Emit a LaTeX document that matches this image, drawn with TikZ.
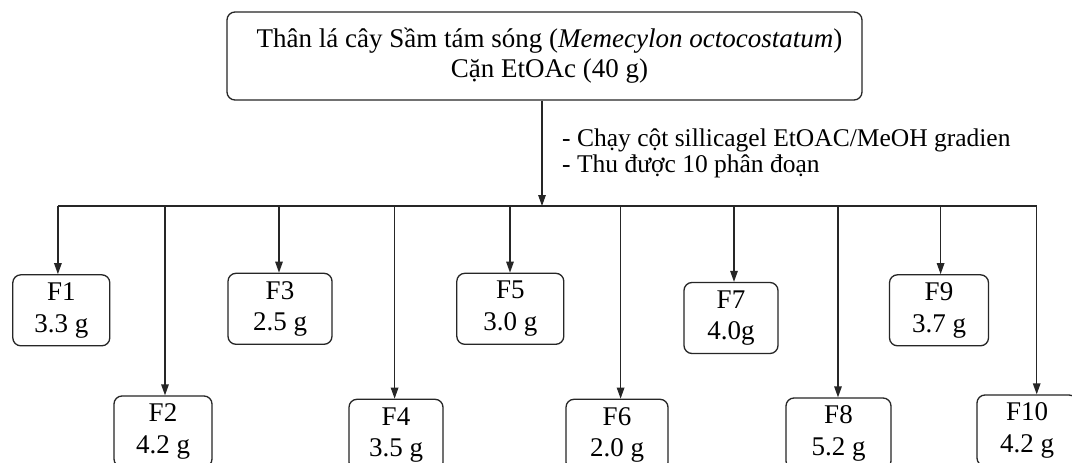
\documentclass[tikz,border=0pt]{standalone}
\usepackage{fontspec}
\setmainfont{Liberation Serif}
\usetikzlibrary{arrows.meta}
\begin{document}
\begin{tikzpicture}[x=1pt,y=-1pt,
  box/.style={draw=black!85,line width=1.3pt,rounded corners=8pt,inner sep=0pt,align=center,minimum height=71pt,font=\fontsize{27}{31.5}\selectfont},
  arr/.style={draw=black!85,line width=1.3pt,-{Triangle[length=11pt,width=7.5pt]}},
  ln/.style={draw=black!85,line width=1.3pt},
  note/.style={align=left,inner sep=0pt,font=\fontsize{25.5}{26}\selectfont}]
\clip (0,0) rectangle (1072,463);
\fill[white] (0,0) rectangle (1072,463);
\node[box, minimum width=635pt, minimum height=88pt, font=\fontsize{27}{30}\selectfont] (top) at (544.5,56) {\hspace*{10pt}Thân lá cây Sầm tám sóng (\textit{Memecylon octocostatum})\\\hspace*{10pt}Cặn EtOAc (40 g)};
\node[note, anchor=west] (txt) at (562,153) {- Chạy cột sillicagel EtOAC/MeOH gradien\\- Thu được 10 phân đoạn};
\node[box, minimum width=97pt]  (f1)  at (61.3,310.3)  {F1\\3.3 g};
\node[box, minimum width=98pt]  (f2)  at (163,431.5)   {F2\\4.2 g};
\node[box, minimum width=104pt] (f3)  at (280,308.8)   {F3\\2.5 g};
\node[box, minimum width=94pt]  (f4)  at (396,434.8)   {F4\\3.5 g};
\node[box, minimum width=107pt] (f5)  at (510.3,308.8) {F5\\3.0 g};
\node[box, minimum width=102pt] (f6)  at (617,434.8)   {F6\\2.0 g};
\node[box, minimum width=94pt]  (f7)  at (731,318)     {F7\\4.0g};
\node[box, minimum width=105pt] (f8)  at (838.5,433.5) {F8\\5.2 g};
\node[box, minimum width=99pt]  (f9)  at (939,310.3)   {F9\\3.7 g};
\node[box, minimum width=100pt] (f10) at (1027,430.5)  {F10\\4.2 g};
\coordinate (b1) at (57.9,206);
\coordinate (b2) at (165,206);
\coordinate (b3) at (279,206);
\coordinate (b4) at (394.6,206);
\coordinate (b5) at (510,206);
\coordinate (b6) at (620.6,206);
\coordinate (b7) at (734,206);
\coordinate (b8) at (838,206);
\coordinate (b9) at (940.6,206);
\coordinate (b10) at (1036.7,206);
\coordinate (hub) at (542,206);
\draw[ln] (b1) -- (b10);
\draw[arr] (top.south -| hub) -- (hub);
\foreach \i in {1,...,10} {\draw[arr] (b\i) -- (b\i |- f\i.north);}
\end{tikzpicture}
\end{document}
